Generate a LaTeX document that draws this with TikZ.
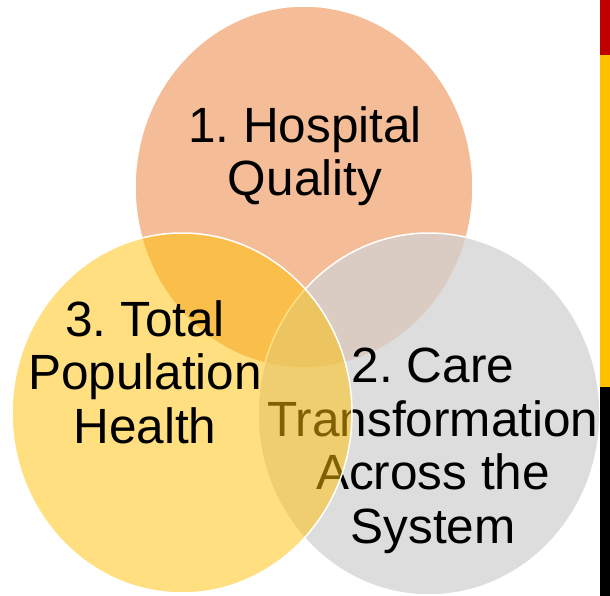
\documentclass[tikz,border=0pt]{standalone}
\usepackage{fontspec}
\setmainfont{Liberation Sans}
\usepackage{tikz}
\frenchspacing

\definecolor{hospOrange}{HTML}{ED7D31}
\definecolor{careGray}{HTML}{D2D2D2}
\definecolor{popYellow}{HTML}{FFC000}
\definecolor{barRed}{HTML}{C00000}

\tikzset{
  venn/.style={draw=white, line width=1.5pt, draw opacity=1},
  lbl/.style={align=center, anchor=base, inner sep=0pt,
    font=\fontsize{49.5}{53.5}\selectfont}
}

\begin{document}
\begin{tikzpicture}[x=1pt,y=-1pt]
		\useasboundingbox[fill=white] (0,0) rectangle (610,596);
		
		% hospital quality
		\draw[venn, fill=hospOrange, fill opacity=0.5] (304,187) ellipse [x radius=169pt, y radius=181pt];
		\node[lbl] (Hospital) at (305,196) {1. Hospital\\Quality};
		
		% care transformation
		\draw[venn, fill=careGray, fill opacity=0.75] (429,414) ellipse [x radius=171pt, y radius=181pt];
		\node[lbl] (Care) at (433,543) {2. Care\\Transformation\\Across the\\System};
		
		% total population health
		\draw[venn, fill=popYellow, fill opacity=0.5] (182,413) ellipse [x radius=170pt, y radius=180pt];
		\node[lbl] (Population) at (145,443) {3. Total\\Population\\Health};
		
		% side bar
		\fill[barRed] (600,0) rectangle (610,55);
		\fill[popYellow] (600,55) rectangle (610,387);
		\fill[black] (600,387) rectangle (610,596);
		
	\end{tikzpicture}
\end{document}
